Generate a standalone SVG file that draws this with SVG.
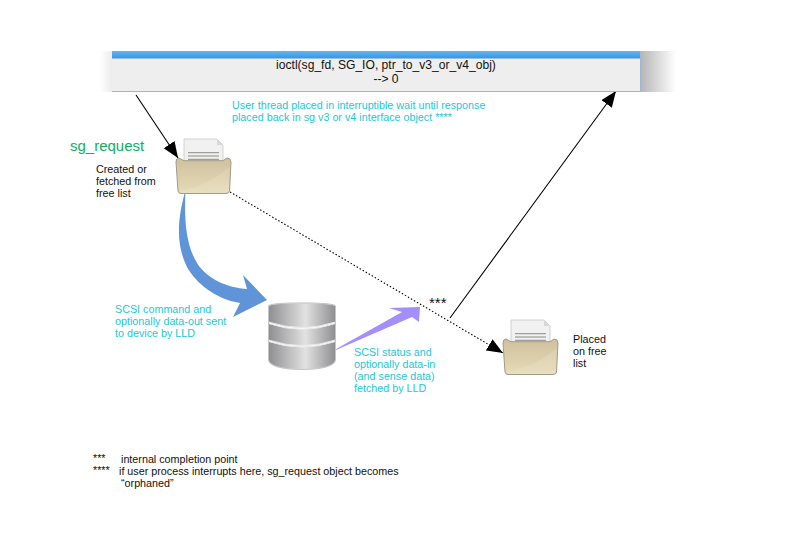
<svg xmlns="http://www.w3.org/2000/svg" width="794" height="559" viewBox="0 0 794 559">
<style>
text{font-family:"Liberation Sans",Arial,sans-serif;font-size:10.750px;fill:#111}
.c{fill:#22c8d8}
.line{stroke:#000;stroke-width:1.100;fill:none}
</style>
<defs>
<linearGradient id="hdr" x1="0" y1="0" x2="0" y2="1"><stop offset="0" stop-color="#5bb8f5"/><stop offset="1" stop-color="#3f93dc"/></linearGradient>
<linearGradient id="shR" x1="0" y1="0" x2="1" y2="0"><stop offset="0" stop-color="#b4b4b4"/><stop offset="1" stop-color="#fff"/></linearGradient>
<linearGradient id="shL" x1="0" y1="0" x2="1" y2="0"><stop offset="0" stop-color="#fff"/><stop offset="1" stop-color="#ececec"/></linearGradient>
<linearGradient id="folder" x1="0" y1="0" x2="0" y2="1"><stop offset="0" stop-color="#cfc09c"/><stop offset="1" stop-color="#e6dcb8"/></linearGradient>
<linearGradient id="disk" x1="0" y1="0" x2="1" y2="0"><stop offset="0" stop-color="#8e8e92"/><stop offset=".55" stop-color="#e2e2e2"/><stop offset="1" stop-color="#8e8e92"/></linearGradient>
<marker id="ah" markerUnits="userSpaceOnUse" markerWidth="18" markerHeight="14" refX="16" refY="6.500" orient="auto"><path d="M0 0L16 6.500L0 13Z" fill="#000"/></marker>
<g id="folderIcon">
<path d="M8 0H41L47 6V24H8Z" fill="#f1f1f1" stroke="#c8c8c8" stroke-width=".8"/>
<path d="M41 0V6H47Z" fill="#d8d8d8"/>
<path d="M12 13.700H43M12 17H43M12 20.300H43" stroke="#8a8a8a" stroke-width="1"/>
<path d="M3 19L8 21.700H47L51 19Q55 19 55 23L53.500 52Q53 54.500 50 54.500H5Q2.500 54.500 2 52L0 23Q0 19 3 19Z" fill="url(#folder)" stroke="#a09a88" stroke-width="1"/>
<path d="M3 52Q30 48 54 28L52.500 52Q52 54 50 54H5Z" fill="#fff" opacity=".12"/>
</g>
</defs>
<rect width="794" height="559" fill="#fff"/>
<g id="connectors">
<path class="line" d="M136 95L178 158" marker-end="url(#ah)"/>
<path class="line" d="M450 318L616 91" marker-end="url(#ah)"/>
<path class="line" stroke-dasharray="1.500 2" d="M230 192L503 353" marker-end="url(#ah)"/>
<path id="blue-arrow" d="M185.500 190C177 220 176 245 187 267C196 283 215 299 240 303L233 317L267 300L243 275L247 289C228 288 207 279 197 263C186 245 184 220 185.500 190Z" fill="#5f94d8"/>
<path id="purple-arrow" d="M329 353L402 312L389 308L420 307L419 322L412 317Z" fill="#a48ffa"/>
</g>
<g id="ioctl-bar">
<rect x="100" y="51" width="12" height="41" fill="url(#shL)"/>
<rect x="640" y="51" width="36" height="41" fill="url(#shR)"/>
<rect x="112" y="51" width="528" height="41" fill="#eee"/>
<rect x="112" y="51" width="528" height="7.500" fill="url(#hdr)"/>
<path d="M112 91.500H640M640.500 58V92" stroke="#9fb6d2" stroke-width="1" fill="none"/>
<text x="386" y="69" text-anchor="middle" style="font-size:12.100px">ioctl(sg_fd, SG_IO, ptr_to_v3_or_v4_obj)</text>
<text x="386" y="83" text-anchor="middle" style="font-size:12.100px">--&gt; 0</text>
</g>
<g id="wait-note">
<text class="c" x="232" y="109">User thread placed in interruptible wait until response</text>
<text class="c" x="232" y="121">placed back in sg v3 or v4 interface object ****</text>
</g>
<g id="sg-request">
<text x="70" y="151" style="font-size:15px;fill:#0db060">sg_request</text>
<text x="96" y="173">Created or</text>
<text x="96" y="185">fetched from</text>
<text x="96" y="197">free list</text>
<use href="#folderIcon" x="176" y="139"/>
</g>
<g id="scsi-command">
<text class="c" x="115" y="313">SCSI command and</text>
<text class="c" x="115" y="325">optionally data-out sent</text>
<text class="c" x="115" y="337">to device by LLD</text>
</g>
<g id="disk-stack" stroke="#e8e8e8" stroke-width="1" fill="url(#disk)">
<path d="M268.500 341.500V360Q270 369 302 369.500Q334 369 335.500 360V341.500Q302 352.500 268.500 341.500Z"/>
<path d="M268.500 323.500V340Q302 351 335.500 340V323.500Q302 335 268.500 323.500Z"/>
<path d="M268.500 306Q270 303 302 303Q334 303 335.500 306V322Q302 333 268.500 322Z"/>
<path d="M268.500 306V360Q270 369 302 369.500Q334 369 335.500 360V306Q334 303 302 303Q270 303 268.500 306Z" fill="none" stroke="#b4b4b4" stroke-width=".7"/>
</g>
<g id="scsi-status">
<text class="c" x="354" y="356">SCSI status and</text>
<text class="c" x="354" y="368">optionally data-in</text>
<text class="c" x="354" y="380">(and sense data)</text>
<text class="c" x="354" y="392">fetched by LLD</text>
</g>
<g id="completion-point"><text x="429" y="308" style="font-size:15px">***</text></g>
<g id="free-list">
<use href="#folderIcon" x="503" y="320"/>
<text x="573" y="343">Placed</text>
<text x="573" y="355">on free</text>
<text x="573" y="367">list</text>
</g>
<g id="footnotes">
<text x="93" y="462">***</text><text x="121" y="463">internal completion point</text>
<text x="93" y="474">****</text><text x="119" y="475">if user process interrupts here, sg_request object becomes</text>
<text x="121" y="487">“orphaned”</text>
</g>
</svg>
